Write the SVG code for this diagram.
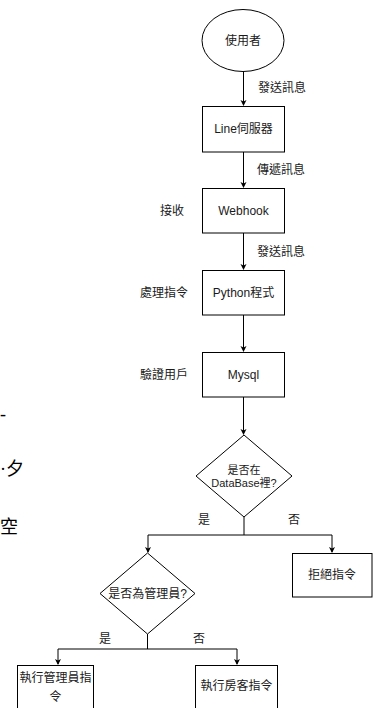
<svg xmlns="http://www.w3.org/2000/svg" width="375" height="708" viewBox="0 0 375 708">
<defs>
<marker id="ah" markerWidth="8" markerHeight="8" refX="6" refY="4" orient="auto" markerUnits="userSpaceOnUse">
<path d="M1,1 L7,4 L1,7 L2.5,4 Z" fill="#000"/>
</marker>
<style>
.n{fill:#fff;stroke:#000;stroke-width:1}
.t{font-family:"Liberation Sans","Noto Sans CJK TC",sans-serif;font-size:12px;fill:#1a1a1a;text-anchor:middle;dominant-baseline:central}
.l{font-family:"Liberation Sans","Noto Sans CJK TC",sans-serif;font-size:12px;fill:#1a1a1a;dominant-baseline:central}
.s{font-size:11px}
.c{fill:none;stroke:#000;stroke-width:1}
.bg{font-family:"Liberation Serif","Noto Sans CJK TC",serif;font-size:18px;fill:#000}
</style>
</defs>
<rect width="375" height="708" fill="#fff"/>
<g id="bgtext">
<text class="bg" x="0" y="420">-</text>
<text class="bg" x="0" y="475">·夕</text>
<text class="bg" x="0" y="533">空</text>
</g>
<g id="connectors">
<path class="c" d="M243.5,71 V105" marker-end="url(#ah)"/>
<path class="c" d="M243.5,152 V187" marker-end="url(#ah)"/>
<path class="c" d="M243.5,233 V269" marker-end="url(#ah)"/>
<path class="c" d="M243.5,315 V351" marker-end="url(#ah)"/>
<path class="c" d="M243.5,397 V434" marker-end="url(#ah)"/>
<path class="c" d="M244,517 V535 M148,535 H332"/>
<path class="c" d="M148,535 V552" marker-end="url(#ah)"/>
<path class="c" d="M332,535 V552" marker-end="url(#ah)"/>
<path class="c" d="M147.5,634 V649 M58,649 H237"/>
<path class="c" d="M58,649 V664" marker-end="url(#ah)"/>
<path class="c" d="M237,649 V664" marker-end="url(#ah)"/>
<text class="l" x="258" y="88">發送訊息</text>
<text class="l" x="257" y="170">傳遞訊息</text>
<text class="l" x="257" y="252">發送訊息</text>
<text class="t" x="204" y="520">是</text>
<text class="t" x="294" y="520">否</text>
<text class="t" x="105" y="639">是</text>
<text class="t" x="199" y="639">否</text>
</g>
<g id="user">
<ellipse class="n" cx="243" cy="40.5" rx="41" ry="31"/>
<text class="t" x="243" y="41">使用者</text>
</g>
<g id="line">
<rect class="n" x="202.5" y="106.5" width="82" height="45.5"/>
<text class="t" x="243.5" y="129">Line伺服器</text>
</g>
<g id="webhook">
<rect class="n" x="202.5" y="188.5" width="82" height="44.5"/>
<text class="t" x="243.5" y="211">Webhook</text>
<text class="l" x="160" y="211">接收</text>
</g>
<g id="python">
<rect class="n" x="202.5" y="270.5" width="82" height="44.5"/>
<text class="t" x="243.5" y="293">Python程式</text>
<text class="l" x="140" y="293">處理指令</text>
</g>
<g id="mysql">
<rect class="n" x="202.5" y="352.5" width="82" height="44.5"/>
<text class="t" x="243.5" y="375">Mysql</text>
<text class="l" x="140" y="375">驗證用戶</text>
</g>
<g id="indb">
<path class="n" d="M244,435 L292,476 L244,517 L196,476 Z"/>
<text class="t s" x="244" y="470">是否在</text>
<text class="t s" x="244" y="483">DataBase裡?</text>
</g>
<g id="reject">
<rect class="n" x="292.5" y="553.5" width="79.5" height="43.5"/>
<text class="t" x="332" y="575">拒絕指令</text>
</g>
<g id="isadmin">
<path class="n" d="M147.5,553 L195,593.5 L147.5,634 L100,593.5 Z"/>
<text class="t" x="147.5" y="593.5">是否為管理員?</text>
</g>
<g id="admincmd">
<rect class="n" x="17.5" y="665.5" width="76" height="50"/>
<text class="t" x="55.5" y="678">執行管理員指</text>
<text class="t" x="55.5" y="697">令</text>
</g>
<g id="guestcmd">
<rect class="n" x="195.5" y="665.5" width="82" height="50"/>
<text class="t" x="236.5" y="686">執行房客指令</text>
</g>
</svg>
